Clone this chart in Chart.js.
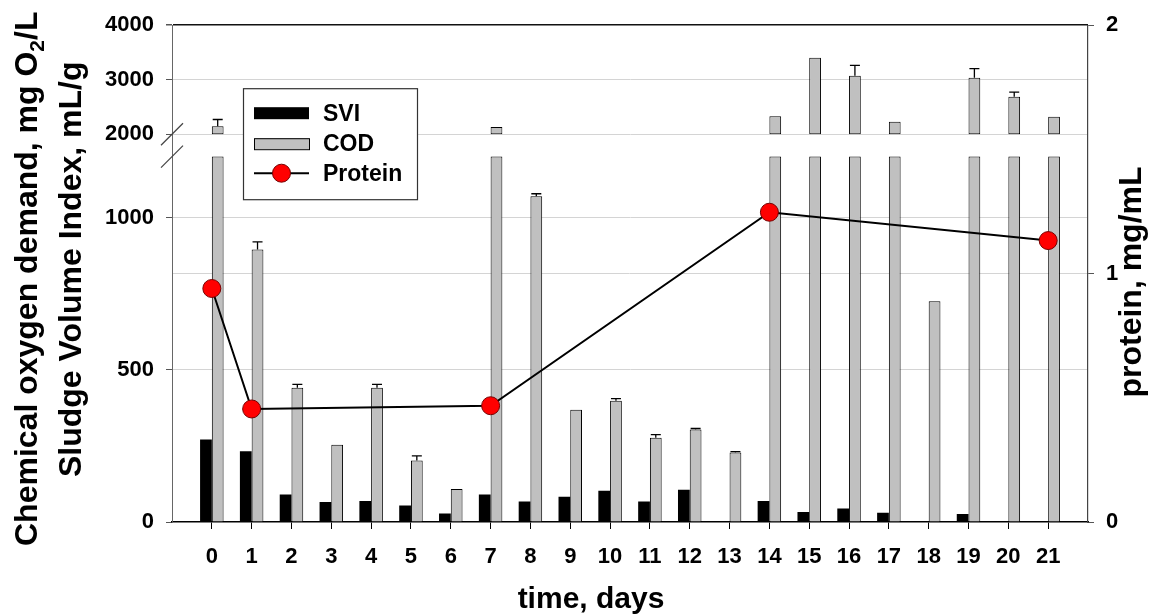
<!DOCTYPE html>
<html>
<head>
<meta charset="utf-8">
<script src="https://cdn.jsdelivr.net/npm/chart.js@4.4.1/dist/chart.umd.min.js"></script>
<style>
  html, body { margin: 0; padding: 0; background: #fff; }
  #wrap { width: 1167px; height: 614px; }
</style>
</head>
<body>
<div id="wrap"><canvas id="chart" width="1167" height="614"></canvas></div>
<script>
// --- data ---
const days = [0, 1, 2, 3, 4, 5, 6, 7, 8, 9, 10, 11, 12, 13, 14, 15, 16, 17, 18, 19, 20, 21];
const svi = [271, 232, 90, 66, 69, 54, 28, 90, 67, 83, 103, 67, 106, null, 69, 33, 44, 30, null, 26, null, 3];
const cod = [2147, 895, 441, 254, 441, 202, 108, 2130, 1070, 369, 398, 277, 304, 228, 2331, 3405, 3074, 2227, 725, 3037, 2687, 2319];
const codErr = [123, 25, 11, 0, 11, 15, 0, 0, 8, 0, 7, 10, 3, 3, 0, 0, 190, 0, 0, 166, 86, 0];
const proteinDays = [0, 1, 7, 14, 21];
const protein = [0.94, 0.455, 0.468, 1.247, 1.133];
const yTicks = [0, 500, 1000, 2000, 3000, 4000];
const y2Ticks = [0, 1, 2];

// broken axis: 0-1200 lower part, 2000-4000 upper part
const LOW_MAX = 1200, HIGH_MIN = 2000, Y_MAX = 4000;
const LOW_FR = 0.7355, GAP_FR = 0.0451;

class BrokenScale extends Chart.LinearScale {
  getPixelForValue(v) {
    if (v === null || v === undefined) return NaN;
    let d;
    if (v <= LOW_MAX) d = v / LOW_MAX * LOW_FR;
    else if (v <= HIGH_MIN) d = LOW_FR + (v - LOW_MAX) / (HIGH_MIN - LOW_MAX) * GAP_FR;
    else d = LOW_FR + GAP_FR + (v - HIGH_MIN) / (Y_MAX - HIGH_MIN) * (1 - LOW_FR - GAP_FR);
    return this.getPixelForDecimal(d);
  }
}
BrokenScale.id = 'broken';
BrokenScale.defaults = {};
Chart.register(BrokenScale);

const FONT = "'Liberation Sans', Arial, sans-serif";
const GRAY = '#c0c0c0';

// split COD into the lower piece, the hidden gap and the upper piece
const codLow = cod.map(v => Math.min(v, LOW_MAX));
const codGap = cod.map(v => v > LOW_MAX ? HIGH_MIN - LOW_MAX : null);
const codHigh = cod.map(v => v > LOW_MAX ? v - HIGH_MIN : null);
const pts = arr => days.map((d, i) => ({ x: d, y: arr[i] }));

const extras = {
  id: 'extras',
  afterDatasetsDraw(chart) {
    // error bars (upward caps)
    const { ctx, scales: { y } } = chart;
    const lowMeta = chart.getDatasetMeta(1);
    ctx.save();
    ctx.strokeStyle = '#000';
    ctx.lineWidth = 1.3;
    codErr.forEach((e, i) => {
      if (!e) return;
      const x = lowMeta.data[i].x;
      const y0 = y.getPixelForValue(cod[i]);
      const y1 = y.getPixelForValue(cod[i] + e);
      ctx.beginPath();
      ctx.moveTo(x, y0); ctx.lineTo(x, y1);
      ctx.moveTo(x - 5, y1); ctx.lineTo(x + 5, y1);
      ctx.stroke();
    });
    ctx.restore();
  },
  afterDraw(chart) {
    const { ctx, chartArea: area, scales: { y } } = chart;
    ctx.save();

    // break marks on the left axis
    ctx.strokeStyle = '#444';
    ctx.lineWidth = 1.3;
    [HIGH_MIN, LOW_MAX].forEach(v => {
      const py = y.getPixelForValue(v);
      ctx.beginPath();
      ctx.moveTo(area.left - 11, py + 11);
      ctx.lineTo(area.left + 11, py - 11);
      ctx.stroke();
    });

    // axis titles
    ctx.fillStyle = '#000';
    ctx.textBaseline = 'alphabetic';
    ctx.textAlign = 'left';
    ctx.font = 'bold 32px ' + FONT;

    // line 1 with subscript
    ctx.save();
    ctx.translate(37, 546);
    ctx.rotate(-Math.PI / 2);
    let t1 = 'Chemical oxygen demand, mg O';
    ctx.fillText(t1, 0, 0);
    let w = ctx.measureText(t1).width;
    ctx.font = 'bold 21px ' + FONT;
    ctx.fillText('2', w, 7);
    w += ctx.measureText('2').width;
    ctx.font = 'bold 32px ' + FONT;
    ctx.fillText('/L', w, 0);
    ctx.restore();

    ctx.save();
    ctx.translate(81, 477);
    ctx.rotate(-Math.PI / 2);
    ctx.fillText('Sludge Volume Index, mL/g', 0, 0);
    ctx.restore();

    ctx.save();
    ctx.translate(1141, 282);
    ctx.rotate(-Math.PI / 2);
    ctx.textAlign = 'center';
    ctx.fillText('protein, mg/mL', 0, 0);
    ctx.restore();

    ctx.font = 'bold 30px ' + FONT;
    ctx.textAlign = 'center';
    ctx.fillText('time, days', 591, 608);

    // legend box
    const lx = area.left + 71, ly = area.top + 63;
    ctx.fillStyle = '#fff';
    ctx.fillRect(lx, ly, 174, 111);
    ctx.strokeStyle = '#333';
    ctx.lineWidth = 1.2;
    ctx.strokeRect(lx + 0.5, ly + 0.5, 174, 111);

    ctx.fillStyle = '#000';
    ctx.fillRect(lx + 11, ly + 19, 55, 12);
    ctx.fillStyle = GRAY;
    ctx.fillRect(lx + 11, ly + 50, 55, 11);
    ctx.strokeStyle = '#000';
    ctx.lineWidth = 1;
    ctx.strokeRect(lx + 11.5, ly + 50.5, 55, 11);

    ctx.lineWidth = 2;
    ctx.beginPath();
    ctx.moveTo(lx + 11, ly + 85); ctx.lineTo(lx + 66, ly + 85);
    ctx.stroke();
    ctx.beginPath();
    ctx.arc(lx + 38.5, ly + 85, 9, 0, Math.PI * 2);
    ctx.fillStyle = '#ff0000';
    ctx.fill();
    ctx.lineWidth = 1;
    ctx.strokeStyle = '#700';
    ctx.stroke();

    ctx.fillStyle = '#000';
    ctx.font = 'bold 23px ' + FONT;
    ctx.textAlign = 'left';
    ctx.textBaseline = 'middle';
    ctx.fillText('SVI', lx + 80, ly + 26);
    ctx.fillText('COD', lx + 80, ly + 56);
    ctx.fillText('Protein', lx + 80, ly + 86);

    ctx.restore();
  }
};

new Chart(document.getElementById('chart'), {
  type: 'bar',
  data: {
    datasets: [
      {
        label: 'SVI', data: pts(svi), stack: 'svi', order: 1,
        backgroundColor: '#000', borderWidth: 0
      },
      {
        label: 'COD', data: pts(codLow), stack: 'cod', order: 1,
        backgroundColor: GRAY, borderColor: '#000', borderWidth: 1
      },
      {
        label: 'COD gap', data: pts(codGap), stack: 'cod', order: 1,
        backgroundColor: 'rgba(0,0,0,0)', borderWidth: 0
      },
      {
        label: 'COD upper', data: pts(codHigh), stack: 'cod', order: 1,
        backgroundColor: GRAY, borderColor: '#000', borderWidth: 1, borderSkipped: false
      },
      {
        type: 'line', label: 'Protein', yAxisID: 'y2', order: 0,
        data: proteinDays.map((d, i) => ({ x: d, y: protein[i] })),
        borderColor: '#000', borderWidth: 2, tension: 0,
        pointRadius: 9, pointBackgroundColor: '#ff0000',
        pointBorderColor: '#700', pointBorderWidth: 1
      }
    ]
  },
  options: {
    responsive: false,
    animation: false,
    events: [],
    layout: { padding: { top: 25, left: 0, right: 0, bottom: 0 } },
    categoryPercentage: 0.59,
    barPercentage: 1.0,
    plugins: {
      legend: { display: false },
      tooltip: { enabled: false }
    },
    scales: {
      x: {
        type: 'linear', min: -1, max: 22, offset: false,
        afterBuildTicks: s => { s.ticks = days.map(d => ({ value: d })); },
        afterFit: s => { s.height = 92; },
        grid: { display: true, drawOnChartArea: false, drawTicks: true, tickLength: 7, tickColor: '#000', offset: false },
        border: { color: '#000', width: 1.5 },
        ticks: { color: '#000', padding: 15, autoSkip: false, maxRotation: 0,
                 font: { family: FONT, size: 22, weight: 'bold' } }
      },
      y: {
        type: 'broken', position: 'left', stacked: true, min: 0, max: Y_MAX,
        afterBuildTicks: s => { s.ticks = yTicks.map(v => ({ value: v })); },
        afterFit: s => { s.width = 172; },
        grid: {
          color: c => c.tick && c.tick.value === Y_MAX ? '#111' : (c.tick && c.tick.value === 0 ? 'rgba(0,0,0,0)' : '#d4d4d4'),
          lineWidth: c => c.tick && c.tick.value === Y_MAX ? 1.5 : 1,
          tickLength: 6, tickColor: '#555'
        },
        border: { color: '#666', width: 1 },
        ticks: { color: '#000', padding: 12, callback: v => String(v),
                 font: { family: FONT, size: 22, weight: 'bold' } }
      },
      y2: {
        type: 'linear', position: 'right', min: 0, max: 2,
        afterBuildTicks: s => { s.ticks = y2Ticks.map(v => ({ value: v })); },
        afterFit: s => { s.width = 79; },
        grid: {
          color: c => c.tick && c.tick.value === 1 ? '#d4d4d4' : 'rgba(0,0,0,0)',
          tickLength: 6, tickColor: '#555'
        },
        border: { color: '#444', width: 1.2 },
        ticks: { color: '#000', padding: 12, callback: v => String(v),
                 font: { family: FONT, size: 22, weight: 'bold' } }
      }
    }
  },
  plugins: [extras]
});
</script>
</body>
</html>
